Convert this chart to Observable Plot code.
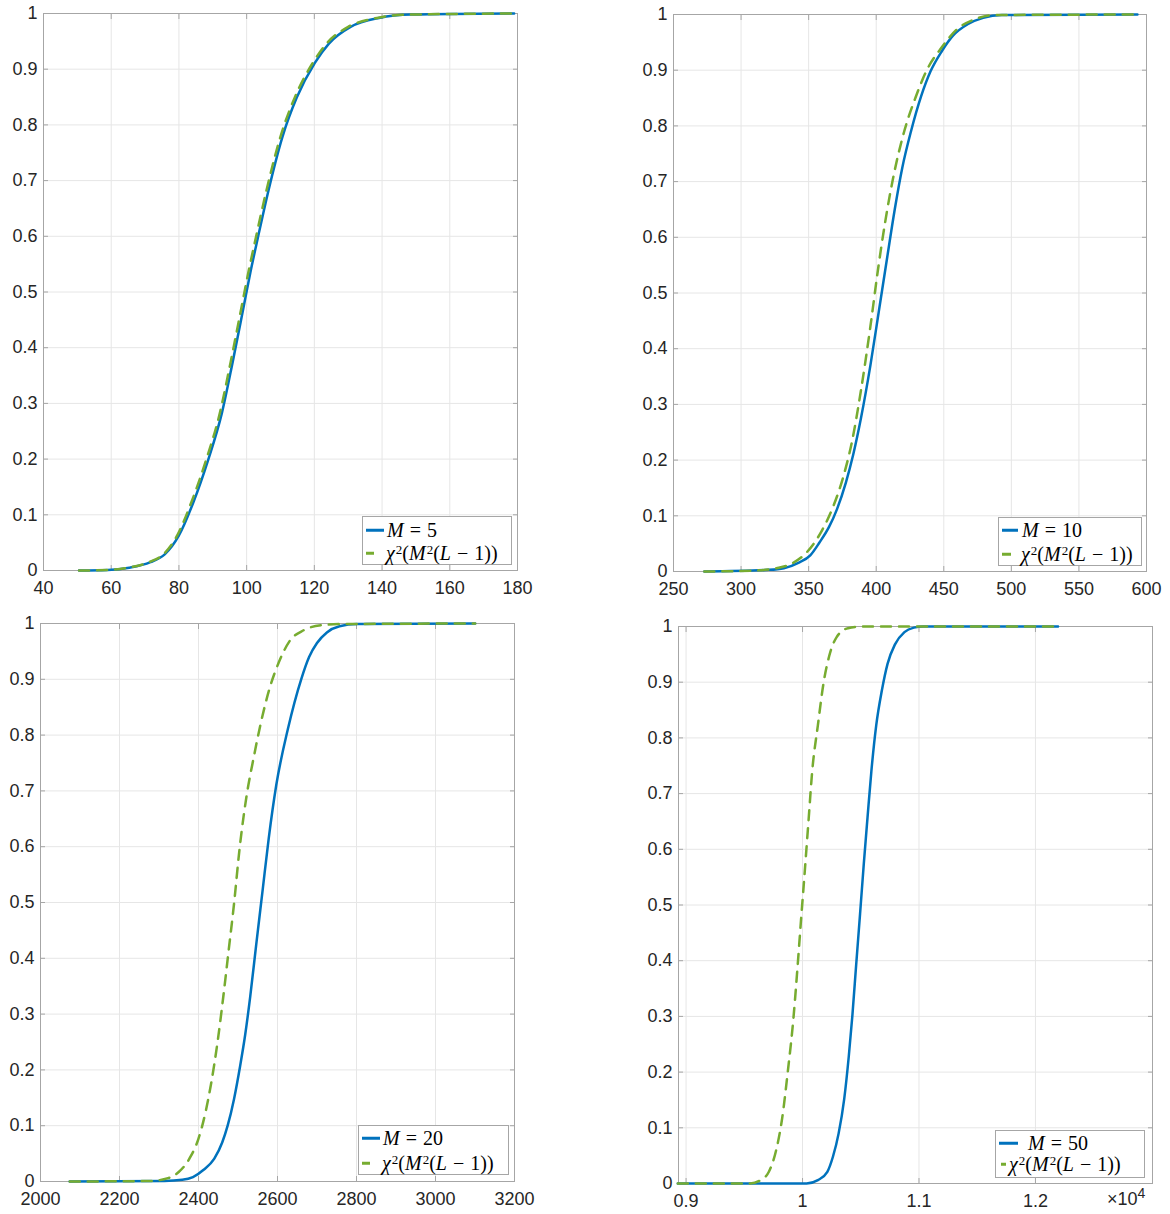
<!DOCTYPE html>
<html>
<head>
<meta charset="utf-8">
<script src="https://cdn.jsdelivr.net/npm/d3@7"></script>
<script src="https://cdn.jsdelivr.net/npm/@observablehq/plot@0.6"></script>
<style>
  body { margin: 0; background: #fff; }
  #root { position: relative; width: 1170px; height: 1214px; overflow: hidden; background: #fff;
          font-family: "Liberation Sans", Arial, Helvetica, sans-serif; }
  .panel { position: absolute; }
  .legend { position: absolute; border: 1px solid #a6a6a6; background: #fff; box-sizing: border-box; }
  .row { position: absolute; white-space: nowrap; font-family: "Liberation Serif", "Times New Roman", serif;
         font-size: 20px; line-height: 1; transform: translateY(-50%); color: #000; }
  .row sup { font-size: 13px; vertical-align: 0; position: relative; top: -0.5em; margin-left: 1px; }
  .op { margin: 0 0.3em; }
  .sample { position: absolute; height: 2.5px; transform: translateY(-50%); }
  .exp { position: absolute; font-size: 18px; color: #262626; font-family: "Liberation Sans", Arial, sans-serif; }
  .exp sup { font-size: 14px; vertical-align: 0; position: relative; top: -0.5em; }
</style>
</head>
<body>
<div id="root"></div>
<script>
// ---------- data ----------
const yTicks = [0, 0.1, 0.2, 0.3, 0.4, 0.5, 0.6, 0.7, 0.8, 0.9, 1];
const yTickLabels = ["0", "0.1", "0.2", "0.3", "0.4", "0.5", "0.6", "0.7", "0.8", "0.9", "1"];

// Panel 1: M = 5
const p1Ticks = [40, 60, 80, 100, 120, 140, 160, 180];
const p1TickLabels = ["40", "60", "80", "100", "120", "140", "160", "180"];
const p1BlueX = [50.5, 59, 65.3, 71.6, 75.8, 80, 84.3, 88.5, 92.7, 95.9, 99, 101.1, 103.3, 106.4, 110.6, 114.8, 120.1, 124.3, 130.7, 139.1, 148.6, 179];
const p1BlueY = [0, 0.001, 0.005, 0.015, 0.029, 0.063, 0.123, 0.196, 0.283, 0.375, 0.47, 0.535, 0.597, 0.681, 0.779, 0.849, 0.911, 0.946, 0.976, 0.992, 0.998, 1];
const p1GreenX = [50.5, 59, 65, 71.2, 75.4, 79.5, 83.7, 87.9, 92.1, 95.3, 98.4, 100.5, 102.7, 105.8, 110, 114.2, 119.5, 123.6, 130, 138.5, 148, 179];
const p1GreenY = [0, 0.001, 0.005, 0.015, 0.029, 0.063, 0.123, 0.196, 0.283, 0.375, 0.47, 0.535, 0.597, 0.681, 0.779, 0.849, 0.911, 0.946, 0.976, 0.992, 0.998, 1];

// Panel 2: M = 10
const p2Ticks = [250, 300, 350, 400, 450, 500, 550, 600];
const p2TickLabels = ["250", "300", "350", "400", "450", "500", "550", "600"];
const p2BlueX = [272.8, 320.6, 331.7, 342.8, 351.2, 358, 365.1, 371, 377.6, 383, 388.7, 395.7, 401.8, 408.2, 413.7, 419.3, 425.7, 433.2, 440.2, 448.5, 456.8, 468, 479.1, 493, 593.3];
const p2BlueY = [0, 0.003, 0.006, 0.016, 0.029, 0.052, 0.080, 0.112, 0.160, 0.210, 0.275, 0.370, 0.465, 0.565, 0.650, 0.725, 0.790, 0.853, 0.898, 0.934, 0.962, 0.983, 0.994, 0.999, 1];
const p2GreenX = [272.8, 312.3, 326.2, 337.3, 348.4, 359.5, 367.9, 376.2, 381.8, 388.7, 395.7, 401.2, 406.8, 412.4, 420.7, 429.1, 437.4, 448.5, 459.6, 473.5, 487.4, 593.3];
const p2GreenY = [0, 0.002, 0.006, 0.014, 0.034, 0.072, 0.115, 0.175, 0.230, 0.325, 0.440, 0.540, 0.630, 0.705, 0.790, 0.851, 0.900, 0.941, 0.973, 0.992, 0.999, 1];

// Panel 3: M = 20
const p3Ticks = [2000, 2200, 2400, 2600, 2800, 3000, 3200];
const p3TickLabels = ["2000", "2200", "2400", "2600", "2800", "3000", "3200"];
const p3BlueX = [2074, 2313.7, 2359, 2386, 2413, 2440, 2460, 2473.8, 2490, 2505.4, 2518, 2530.7, 2547, 2562, 2577.8, 2596.8, 2626, 2660, 2680, 2700, 2725, 2757, 2802, 3100.4];
const p3BlueY = [0, 0.001, 0.003, 0.008, 0.021, 0.041, 0.07, 0.1, 0.148, 0.207, 0.262, 0.33, 0.43, 0.52, 0.615, 0.71, 0.81, 0.9, 0.94, 0.965, 0.984, 0.995, 0.999, 1];
const p3GreenX = [2074, 2277.6, 2322.8, 2349.9, 2377, 2399.6, 2417.7, 2431.3, 2449.4, 2462.9, 2476.5, 2490, 2503.6, 2521.7, 2539.8, 2557.9, 2580.5, 2603.1, 2630.2, 2666.4, 2711.6, 2765.8, 3100.4];
const p3GreenY = [0, 0.001, 0.006, 0.017, 0.041, 0.076, 0.124, 0.173, 0.256, 0.332, 0.415, 0.498, 0.594, 0.691, 0.760, 0.822, 0.885, 0.930, 0.968, 0.988, 0.997, 0.999, 1];

// Panel 4: M = 50 (x in units of 10^4)
const p4Ticks = [0.9, 1, 1.1, 1.2];
const p4TickLabels = ["0.9", "1", "1.1", "1.2"];
const p4BlueX = [0.8929, 1.0035, 1.0132, 1.0213, 1.0261, 1.031, 1.0358, 1.0397, 1.0429, 1.0461, 1.0494, 1.0526, 1.0558, 1.0591, 1.0633, 1.0681, 1.073, 1.0794, 1.0875, 1.0956, 1.1037, 1.2194];
const p4BlueY = [0, 0, 0.006, 0.021, 0.048, 0.090, 0.152, 0.228, 0.304, 0.394, 0.484, 0.574, 0.657, 0.740, 0.823, 0.885, 0.933, 0.968, 0.990, 0.998, 1, 1];
const p4GreenX = [0.8929, 0.955, 0.9647, 0.9711, 0.9776, 0.9825, 0.9873, 0.9922, 0.9954, 0.9986, 1.0019, 1.0051, 1.0083, 1.0132, 1.018, 1.0229, 1.0293, 1.039, 1.0519, 1.2194];
const p4GreenY = [0, 0, 0.007, 0.021, 0.062, 0.117, 0.200, 0.297, 0.380, 0.470, 0.560, 0.650, 0.740, 0.823, 0.898, 0.947, 0.981, 0.997, 1, 1];

const mValues = ["5", "10", "20", "50"];

// ---------- styling / layout ----------
const BLUE = "#0072BD";
const GREEN = "#77AC30";
const FRAME = "#a6a6a6";
const GRID = "#e6e6e6";
const TEXT = "#262626";

const panels = [
  { left: 0,   top: 0,   w: 585, h: 607, ml: 43, mr: 68, mt: 13, mb: 37, domain: [40, 180],
    ticks: p1Ticks, labels: p1TickLabels, bx: p1BlueX, by: p1BlueY, gx: p1GreenX, gy: p1GreenY,
    legend: { left: 362, top: 516, w: 150, h: 49, r1: 13, r2: 36, line: [3, 21], dash: [3, 11], t1: 24, t2: 23 } },
  { left: 585, top: 0,   w: 585, h: 607, ml: 88, mr: 24, mt: 14, mb: 36, domain: [250, 600],
    ticks: p2Ticks, labels: p2TickLabels, bx: p2BlueX, by: p2BlueY, gx: p2GreenX, gy: p2GreenY,
    legend: { left: 998, top: 517, w: 144, h: 49, r1: 12, r2: 36, line: [3, 19], dash: [3, 12], t1: 23, t2: 22 } },
  { left: 0,   top: 607, w: 585, h: 607, ml: 40, mr: 71, mt: 16, mb: 33, domain: [2000, 3200],
    ticks: p3Ticks, labels: p3TickLabels, bx: p3BlueX, by: p3BlueY, gx: p3GreenX, gy: p3GreenY,
    legend: { left: 358, top: 1125, w: 151, h: 50, r1: 12, r2: 37, line: [3, 21], dash: [3, 11], t1: 24, t2: 23 } },
  { left: 585, top: 607, w: 585, h: 607, ml: 93, mr: 18, mt: 19, mb: 31, domain: [0.8935, 1.3005],
    ticks: p4Ticks, labels: p4TickLabels, bx: p4BlueX, by: p4BlueY, gx: p4GreenX, gy: p4GreenY,
    legend: { left: 995, top: 1130, w: 150, h: 48, r1: 12, r2: 33, line: [3, 22], dash: [5, 10], t1: 32, t2: 13 } }
];

const root = document.getElementById("root");
const yLabelMap = new Map(yTicks.map((t, i) => [t, yTickLabels[i]]));

panels.forEach((p, k) => {
  const blue = p.bx.map((x, i) => ({ x, y: p.by[i] }));
  const green = p.gx.map((x, i) => ({ x, y: p.gy[i] }));
  const xLabelMap = new Map(p.ticks.map((t, i) => [t, p.labels[i]]));
  const chart = Plot.plot({
    width: p.w, height: p.h,
    marginLeft: p.ml, marginRight: p.mr, marginTop: p.mt, marginBottom: p.mb,
    style: { fontFamily: "'Liberation Sans', Arial, Helvetica, sans-serif", fontSize: "18px", color: TEXT, background: "transparent", overflow: "visible" },
    x: { domain: p.domain },
    y: { domain: [0, 1] },
    marks: [
      Plot.gridX(p.ticks, { stroke: GRID, strokeOpacity: 1, strokeWidth: 1 }),
      Plot.gridY(yTicks, { stroke: GRID, strokeOpacity: 1, strokeWidth: 1 }),
      Plot.frame({ stroke: FRAME, strokeWidth: 1 }),
      Plot.axisX(p.ticks, { anchor: "bottom", tickSize: -5, fill: "none", stroke: FRAME, label: null }),
      Plot.axisX(p.ticks, { anchor: "top", tickSize: -5, fill: "none", stroke: FRAME, label: null }),
      Plot.axisY(yTicks, { anchor: "left", tickSize: -5, fill: "none", stroke: FRAME, label: null }),
      Plot.axisY(yTicks, { anchor: "right", tickSize: -5, fill: "none", stroke: FRAME, label: null }),
      Plot.line(blue, { x: "x", y: "y", stroke: BLUE, strokeWidth: 2.5, curve: "monotone-x" }),
      Plot.line(green, { x: "x", y: "y", stroke: GREEN, strokeWidth: 2.5, strokeDasharray: "10,8", curve: "monotone-x" }),
      Plot.axisX(p.ticks, { anchor: "bottom", tickSize: 0, tickPadding: 11, tickFormat: d => xLabelMap.get(d), label: null, fill: TEXT, fontSize: 18 }),
      Plot.axisY(yTicks, { anchor: "left", tickSize: 0, tickPadding: 6, tickFormat: d => yLabelMap.get(d), label: null, fill: TEXT, fontSize: 18 })
    ]
  });
  chart.classList.add("panel");
  chart.style.left = p.left + "px";
  chart.style.top = p.top + "px";
  root.appendChild(chart);

  // legend
  const L = p.legend;
  const box = document.createElement("div");
  box.className = "legend";
  Object.assign(box.style, { left: L.left + "px", top: L.top + "px", width: L.w + "px", height: L.h + "px" });
  const s1 = document.createElement("div");
  s1.className = "sample";
  Object.assign(s1.style, { left: L.line[0] + "px", width: (L.line[1] - L.line[0]) + "px", top: L.r1 + "px", background: BLUE });
  const s2 = document.createElement("div");
  s2.className = "sample";
  Object.assign(s2.style, { left: L.dash[0] + "px", width: (L.dash[1] - L.dash[0]) + "px", top: L.r2 + "px", background: GREEN });
  const t1 = document.createElement("div");
  t1.className = "row";
  Object.assign(t1.style, { left: L.t1 + "px", top: L.r1 + "px" });
  t1.innerHTML = `<i>M</i><span class="op">=</span>${mValues[k]}`;
  const t2 = document.createElement("div");
  t2.className = "row";
  Object.assign(t2.style, { left: L.t2 + "px", top: L.r2 + "px" });
  t2.innerHTML = `<i>χ</i><sup>2</sup>(<i>M</i><sup>2</sup>(<i>L</i><span class="op">−</span>1))`;
  box.append(s1, s2, t1, t2);
  root.appendChild(box);
});

// exponent label for the last panel
const exp = document.createElement("div");
exp.className = "exp";
Object.assign(exp.style, { left: "1107px", top: "1189px" });
exp.innerHTML = "×10<sup>4</sup>";
root.appendChild(exp);
</script>
</body>
</html>
